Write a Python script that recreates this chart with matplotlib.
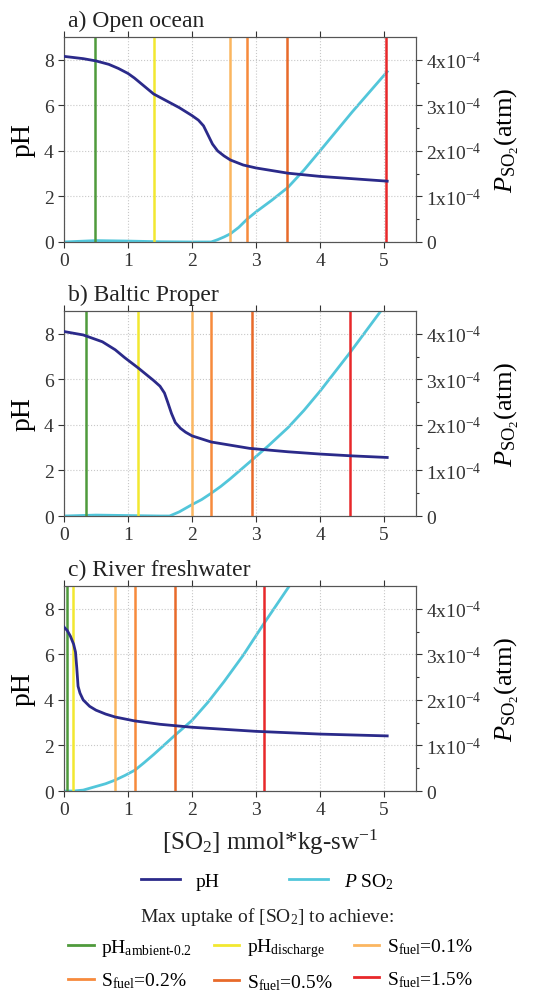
import numpy as np
import matplotlib
matplotlib.use('Agg')
import matplotlib.pyplot as plt
from matplotlib.lines import Line2D

plt.rcParams['font.family'] = 'Liberation Serif'
plt.rcParams['mathtext.fontset'] = 'custom'
plt.rcParams['mathtext.rm'] = 'Liberation Serif'
plt.rcParams['mathtext.it'] = 'Liberation Serif:italic'

# ---- data ----
titles = ['a) Open ocean', 'b) Baltic Proper', 'c) River freshwater']

# pH curves (x in mmol/kg-sw)
ph_x_a = [0, 0.3, 0.5, 0.7, 0.85, 1.0, 1.1, 1.25, 1.4, 1.6, 1.8, 2.0, 2.1, 2.18, 2.25, 2.32, 2.4, 2.5, 2.6, 2.8, 3.0, 3.5, 4.0, 4.5, 5.05]
ph_y_a = [8.15, 8.05, 7.95, 7.8, 7.62, 7.4, 7.2, 6.85, 6.5, 6.2, 5.9, 5.55, 5.35, 5.1, 4.7, 4.3, 4.0, 3.78, 3.6, 3.38, 3.25, 3.02, 2.88, 2.78, 2.67]
ph_x_b = [0, 0.3, 0.6, 0.8, 0.95, 1.16, 1.4, 1.5, 1.57, 1.62, 1.68, 1.74, 1.82, 1.9, 2.0, 2.3, 2.9, 3.5, 4.0, 4.5, 5.05]
ph_y_b = [8.1, 7.95, 7.65, 7.3, 6.95, 6.5, 5.95, 5.7, 5.4, 5.0, 4.5, 4.1, 3.85, 3.68, 3.52, 3.25, 2.97, 2.82, 2.72, 2.64, 2.57]
ph_x_c = [0, 0.05, 0.1, 0.15, 0.18, 0.2, 0.22, 0.25, 0.3, 0.4, 0.5, 0.65, 0.8, 1.1, 1.5, 2.0, 3.0, 4.0, 5.05]
ph_y_c = [7.2, 7.05, 6.8, 6.45, 6.1, 5.4, 4.6, 4.3, 4.0, 3.72, 3.55, 3.38, 3.25, 3.08, 2.93, 2.8, 2.62, 2.5, 2.42]

# P_SO2 curves (units of 1e-4 atm)
p_x_a = [0, 0.5, 1.0, 1.5, 2.0, 2.3, 2.4, 2.5, 2.6, 2.73, 2.86, 3.0, 3.25, 3.5, 3.75, 4.0, 4.5, 5.05]
p_y_a = [0, 0.03, 0.02, 0.005, 0, 0, 0.05, 0.11, 0.18, 0.32, 0.5, 0.66, 0.92, 1.2, 1.58, 2.0, 2.85, 3.74]
p_x_b = [0, 0.5, 1.0, 1.5, 1.65, 1.8, 2.0, 2.15, 2.29, 2.45, 2.6, 2.93, 3.2, 3.5, 3.75, 4.0, 4.47, 4.95, 5.2]
p_y_b = [0, 0.02, 0.01, 0, 0, 0.09, 0.25, 0.36, 0.49, 0.65, 0.82, 1.22, 1.55, 1.94, 2.32, 2.74, 3.59, 4.5, 5.0]
p_x_c = [0, 0.15, 0.3, 0.5, 0.65, 0.8, 0.95, 1.11, 1.25, 1.4, 1.55, 1.73, 2.0, 2.25, 2.5, 2.8, 3.13, 3.52, 3.8]
p_y_c = [0, 0, 0.02, 0.1, 0.16, 0.24, 0.34, 0.46, 0.62, 0.8, 0.99, 1.22, 1.55, 1.95, 2.4, 2.98, 3.69, 4.5, 5.1]

# max uptake thresholds: pH_ambient-0.2, pH_discharge, S 0.1%, 0.2%, 0.5%, 1.5%
limits_a = [0.49, 1.40, 2.59, 2.86, 3.49, 5.03]
limits_b = [0.34, 1.16, 2.00, 2.29, 2.93, 4.47]
limits_c = [0.05, 0.146, 0.80, 1.11, 1.73, 3.13]

limit_labels = [r'pH$_{\mathrm{ambient\text{-}0.2}}$', r'pH$_{\mathrm{discharge}}$',
                r'S$_{\mathrm{fuel}}$=0.1%', r'S$_{\mathrm{fuel}}$=0.2%',
                r'S$_{\mathrm{fuel}}$=0.5%', r'S$_{\mathrm{fuel}}$=1.5%']
limit_colors = ['#4f9a3c', '#f2e830', '#fbb660', '#f78a3c', '#e86a2a', '#e8282a']
ph_color = '#2b2a8a'
p_color = '#52c6da'

panels = [
    (ph_x_a, ph_y_a, p_x_a, p_y_a, limits_a),
    (ph_x_b, ph_y_b, p_x_b, p_y_b, limits_b),
    (ph_x_c, ph_y_c, p_x_c, p_y_c, limits_c),
]

fig = plt.figure(figsize=(5.35, 9.95), dpi=100)
left, width, height = 0.1196, 0.658, 0.206
bottoms = [0.7558, 0.4804, 0.2040]
spine_col = '#555555'

for i, (phx, phy, px, py, lims) in enumerate(panels):
    ax = fig.add_axes([left, bottoms[i], width, height])
    ax.set_xlim(0, 5.5)
    ax.set_ylim(0, 9)
    ax.set_xticks([0, 1, 2, 3, 4, 5])
    ax.set_yticks([0, 2, 4, 6, 8])
    ax.grid(True, color='#c8c8c8', linestyle=':', linewidth=0.8)
    ax.set_axisbelow(True)
    for x, c in zip(lims, limit_colors):
        ax.axvline(x, color=c, lw=1.8, zorder=2)
    ax.plot(phx, phy, color=ph_color, lw=2.0, zorder=4)
    ax.tick_params(labelsize=14, colors='#333333', length=4, width=0.8, top=True)
    ax.tick_params(axis='x', direction='out')
    for s in ax.spines.values():
        s.set_color(spine_col)
    ax.set_ylabel('pH', fontsize=20, labelpad=6)
    ax.text(0.01, 1.03, titles[i], transform=ax.transAxes, fontsize=17,
            ha='left', va='bottom', color='#222222')

    ax2 = ax.twinx()
    ax2.set_ylim(0, 4.5)
    ax2.plot(px, py, color=p_color, lw=2.0, zorder=3)
    ax2.set_yticks([0, 1, 2, 3, 4])
    ax2.set_yticklabels(['0'] + [r'$%d\mathrm{x}10^{-4}$' % k for k in range(1, 5)])
    ax2.set_yticks(np.arange(0.5, 4.5, 1.0), minor=True)
    ax2.tick_params(labelsize=14, colors='#333333', length=4, width=0.8)
    ax2.tick_params(which='minor', length=2.5, width=0.8, colors='#333333')
    for s in ax2.spines.values():
        s.set_color(spine_col)
    ax2.set_ylabel(r'$P_{\mathrm{SO_2}}$(atm)', fontsize=19, labelpad=8)
    # keep pH axis drawn above the twin
    ax.set_zorder(ax2.get_zorder() + 1)
    ax.patch.set_visible(False)

# x label centred on the figure, as in the reference
fig.text(0.505, 0.153, r'[SO$_2$] mmol*kg-sw$^{-1}$', ha='center', va='center',
         fontsize=18, color='#222222')

# legends
h1 = [Line2D([], [], color=ph_color, lw=2), Line2D([], [], color=p_color, lw=2)]
fig.legend(h1, ['pH', r'$P$ SO$_2$'], ncol=2, loc='center', bbox_to_anchor=(0.5, 0.1136),
           frameon=False, fontsize=14, handlelength=2.0, columnspacing=3.6)
fig.text(0.5, 0.0784, r'Max uptake of [SO$_2$] to achieve:', ha='center', va='center',
         fontsize=14, color='#222222')

order = [0, 3, 1, 4, 2, 5]
h2 = [Line2D([], [], color=limit_colors[k], lw=2) for k in order]
fig.legend(h2, [limit_labels[k] for k in order], ncol=3, loc='center',
           bbox_to_anchor=(0.505, 0.030), frameon=False, fontsize=14,
           handlelength=1.3, columnspacing=1.1, handletextpad=0.4, labelspacing=0.66)

fig.savefig('out.png', dpi=100)
